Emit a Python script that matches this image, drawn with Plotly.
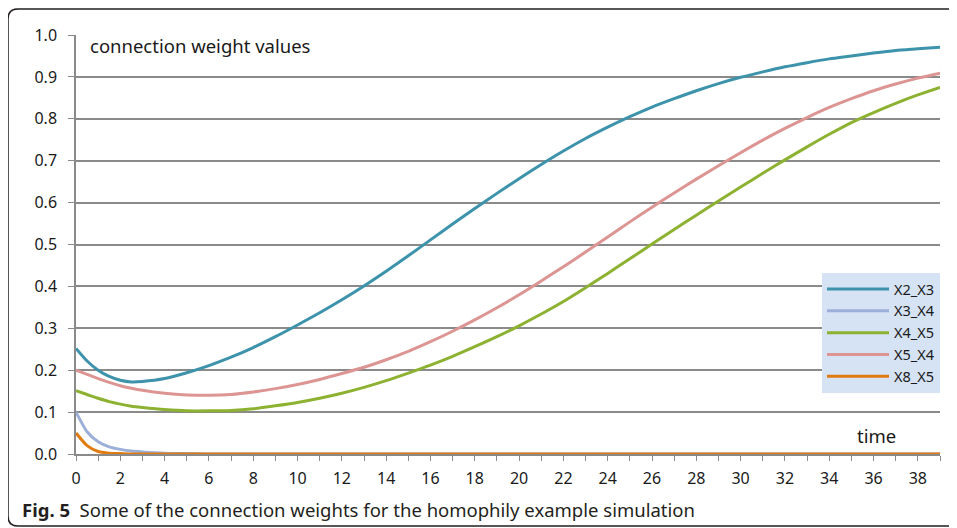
import plotly.graph_objects as go

time = [0, 0.5, 1, 1.5, 2, 2.5, 3] + list(range(4, 40))

x2_x3 = [0.252, 0.222, 0.200, 0.185, 0.176, 0.172, 0.173,
         0.180, 0.194, 0.211, 0.231, 0.254, 0.280, 0.308, 0.337, 0.368, 0.401,
         0.436, 0.473, 0.511, 0.549, 0.586, 0.622, 0.657, 0.691, 0.723, 0.753,
         0.780, 0.805, 0.828, 0.848, 0.867, 0.884, 0.899, 0.912, 0.924, 0.934,
         0.943, 0.950, 0.957, 0.963, 0.967, 0.971]
x3_x4 = [0.100, 0.053, 0.029, 0.017, 0.011, 0.007, 0.005,
         0.002, 0.001] + [0.0] * 34
x4_x5 = [0.151, 0.142, 0.133, 0.125, 0.119, 0.114, 0.111,
         0.106, 0.103, 0.103, 0.104, 0.108, 0.115, 0.123, 0.133, 0.145, 0.159,
         0.175, 0.193, 0.212, 0.233, 0.256, 0.280, 0.306, 0.334, 0.364, 0.397,
         0.431, 0.466, 0.501, 0.536, 0.570, 0.604, 0.637, 0.670, 0.702, 0.733,
         0.763, 0.791, 0.815, 0.837, 0.857, 0.875]
x5_x4 = [0.200, 0.190, 0.180, 0.171, 0.163, 0.157, 0.152,
         0.145, 0.141, 0.140, 0.142, 0.148, 0.156, 0.166, 0.178, 0.192, 0.207,
         0.225, 0.245, 0.268, 0.293, 0.320, 0.349, 0.380, 0.413, 0.447, 0.482,
         0.518, 0.554, 0.589, 0.623, 0.656, 0.688, 0.719, 0.749, 0.777, 0.803,
         0.827, 0.848, 0.867, 0.883, 0.897, 0.909]
x8_x5 = [0.050, 0.020, 0.006, 0.002, 0.001] + [0.0] * 38

series = [("X2_X3", x2_x3, "#3D93AB"),
          ("X3_X4", x3_x4, "#9BAFD9"),
          ("X4_X5", x4_x5, "#8DB232"),
          ("X5_X4", x5_x4, "#DC9593"),
          ("X8_X5", x8_x5, "#E07B12")]

x_ticks = list(range(0, 39, 2))
y_ticks = [round(i * 0.1, 1) for i in range(11)]

FONT = "Noto Sans"
GRID = "#8a8a8a"
OFF = 8  # page offset of the figure inside the browser window

fig = go.Figure()
for name, vals, col in series:
    fig.add_trace(go.Scatter(x=time, y=vals, name=name, mode="lines",
                             line=dict(color=col, width=3, shape="spline", smoothing=0.6)))

fig.update_layout(
    width=957, height=528,
    margin=dict(l=76 - OFF, r=957 - 940 + OFF, t=35 - OFF, b=528 - 454 + OFF),
    paper_bgcolor="white", plot_bgcolor="white",
    font=dict(family=FONT, size=16, color="#1a1a1a"),
    showlegend=True,
    legend=dict(x=1, xanchor="right", y=(454 - 273) / 419, yanchor="top",
                bgcolor="#D5E3F5", font=dict(size=14.5, family=FONT, color="#1a1a1a"),
                borderwidth=0, tracegroupgap=0, itemwidth=62),
    xaxis=dict(range=[0, 39], tickvals=x_ticks, ticktext=[str(v) for v in x_ticks],
               ticks="outside", ticklen=5, tickcolor=GRID, tickwidth=1.3,
               showline=True, linecolor=GRID, linewidth=1.5,
               showgrid=False, zeroline=False,
               minor=dict(dtick=1, tick0=0, ticks="outside", ticklen=5, tickcolor=GRID,
                          tickwidth=1.3, showgrid=False),
               tickfont=dict(size=16, family=FONT), ticklabelstandoff=4),
    yaxis=dict(range=[0, 1], tickvals=y_ticks, ticktext=[f"{v:.1f}" for v in y_ticks],
               ticks="outside", ticklen=6, tickcolor=GRID, tickwidth=1.3,
               showline=True, linecolor=GRID, linewidth=1.5,
               showgrid=True, gridcolor=GRID, gridwidth=1.5, zeroline=False,
               tickfont=dict(size=16, family=FONT), ticklabelstandoff=8),
)

def px(xp):
    return (xp - 76) / 864
def py(yp):
    return (454 - yp) / 419

fig.add_annotation(text="connection weight values", xref="paper", yref="paper",
                   x=px(88), y=py(45), xanchor="left", yanchor="middle",
                   showarrow=False, font=dict(size=18.5, family=FONT, color="#1a1a1a"))
fig.add_annotation(text="time", xref="paper", yref="paper",
                   x=px(876), y=py(435), xanchor="center", yanchor="middle",
                   showarrow=False, font=dict(size=18.5, family=FONT, color="#1a1a1a"))
fig.add_annotation(text="<b>Fig. 5</b>  Some of the connection weights for the homophily example simulation",
                   xref="paper", yref="paper",
                   x=px(20), y=py(509), xanchor="left", yanchor="middle",
                   showarrow=False, font=dict(size=18.5, family=FONT, color="#231f20"))

# rounded frame around the figure
L, T, B, R, r = 8, 9, 526, 975, 10
path = (f"M {px(R)},{py(T)} L {px(L + r)},{py(T)} Q {px(L)},{py(T)} {px(L)},{py(T + r)} "
        f"L {px(L)},{py(B - r)} Q {px(L)},{py(B)} {px(L + r)},{py(B)} L {px(R)},{py(B)}")
fig.add_shape(type="path", path=path, xref="paper", yref="paper",
              line=dict(color="#231f20", width=1.5), layer="below")

fig.write_html("out.html")
